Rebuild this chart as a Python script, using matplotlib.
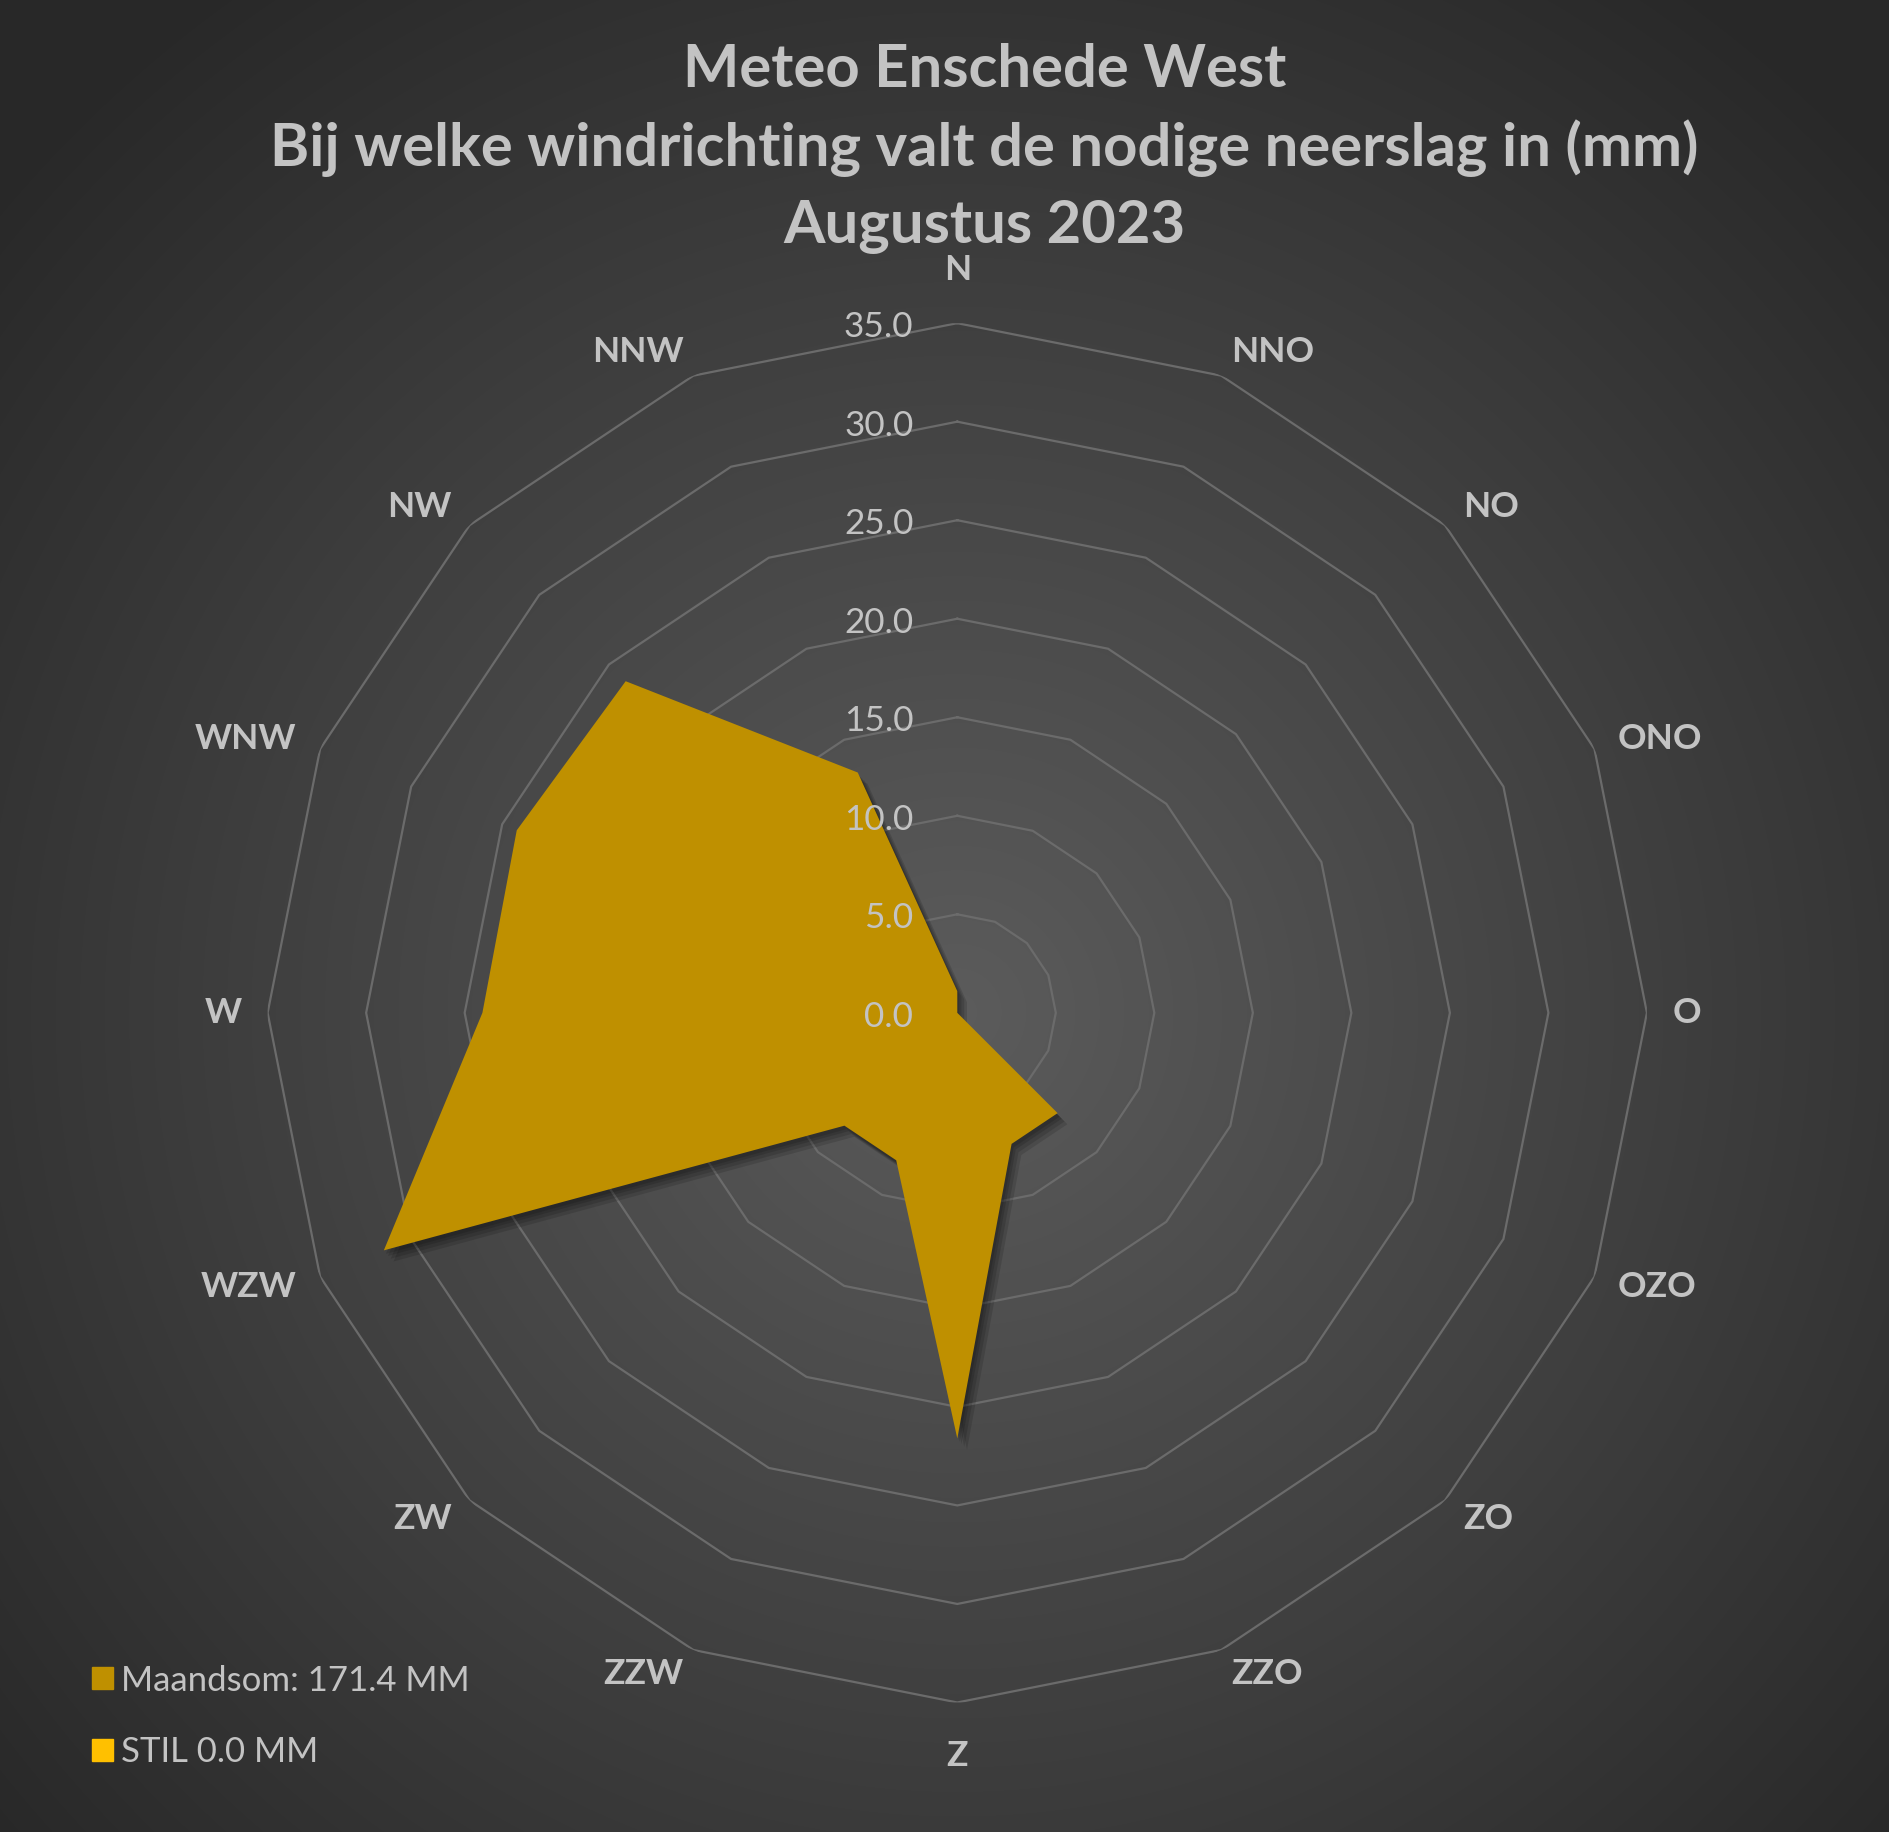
import numpy as np
import matplotlib
matplotlib.use("Agg")
import matplotlib.pyplot as plt
import matplotlib.patches as mpatches
import matplotlib.patheffects as pe
from matplotlib.transforms import offset_copy

plt.rcParams['font.family'] = ['Lato', 'DejaVu Sans']

# data
directions = ['N', 'NNO', 'NO', 'ONO', 'O', 'OZO', 'ZO', 'ZZO',
              'Z', 'ZZW', 'ZW', 'WZW', 'W', 'WNW', 'NW', 'NNW']
rain = [1.1, 0.0, 1.0, 0.0, 0.0, 0.0, 7.2, 7.2,
        21.6, 8.1, 8.1, 31.5, 24.1, 24.2, 23.8, 13.2]
ticks = [0, 5, 10, 15, 20, 25, 30, 35]
title_lines = ['Meteo Enschede West',
               'Bij welke windrichting valt de nodige neerslag in (mm)',
               'Augustus 2023']
legend_labels = ['Maandsom: 171.4 MM', 'STIL 0.0 MM']

text_col = '#c3c3c3'
fill_col = '#bf9000'
stil_col = '#ffc000'
grid_col = '#6b6b6b'

fig = plt.figure(figsize=(18.9, 18.32), dpi=100)

# radial gradient background
bg = fig.add_axes([0, 0, 1, 1])
yy, xx = np.mgrid[0:1832, 0:1890]
d = np.sqrt((xx - 957) ** 2 + (yy - 1012) ** 2) / 1250.0
d = np.clip(d, 0, 1)
shade = 0.36 - (0.36 - 0.16) * d
bg.imshow(np.dstack([shade, shade, shade]), aspect='auto', extent=[0, 1, 0, 1])
bg.axis('off')

# radar axes
ax = fig.add_axes([0.1416, 0.0707, 0.7298, 0.7529], projection='polar')
ax.set_facecolor('none')
ax.set_theta_zero_location('N')
ax.set_theta_direction(-1)
ax.set_ylim(0, 35)
ax.grid(False)
ax.spines['polar'].set_visible(False)
ax.set_xticks([])
ax.set_yticks([])

n = len(directions)
theta = np.linspace(0, 2 * np.pi, n, endpoint=False)
theta_c = np.append(theta, theta[0])

# polygon gridlines
for t in ticks[1:]:
    ax.plot(theta_c, [t] * (n + 1), color=grid_col, lw=1.6, zorder=1)

# rain polygon with soft shadow
vals = np.append(rain, rain[0])
shadows = [pe.SimplePatchShadow(offset=(o, -o - 1), shadow_rgbFace='black', alpha=0.13)
           for o in (7, 5, 3, 1.5)]
ax.fill(theta_c, vals, color=fill_col, lw=0, zorder=3,
        path_effects=shadows + [pe.Normal()])

# value labels along the N axis
tr = offset_copy(ax.transData, fig=fig, x=-44, y=-4, units='dots')
for t in ticks:
    ax.text(0, t, '%.1f' % t, transform=tr, ha='right', va='center',
            fontsize=25.3, color=text_col, zorder=5)

# direction labels, anchored just outside the outer ring
for a, lab in zip(theta, directions):
    s = np.sin(a)
    if abs(s) < 1e-6:
        ha = 'center'
        va = 'bottom' if np.cos(a) > 0 else 'top'
        r = 36.9
    else:
        ha = 'left' if s > 0 else 'right'
        va = 'center'
        r = 36.3
    ax.text(a, r, lab, ha=ha, va=va, fontsize=25.5,
            fontweight='bold', color=text_col, clip_on=False)

# title
for y, line in zip([0.962, 0.919, 0.876], title_lines):
    fig.text(0.521, y, line, ha='center', va='center', fontsize=43,
             fontweight='bold', color=text_col)

# legend
handles = [mpatches.Patch(color=fill_col, label=legend_labels[0]),
           mpatches.Patch(color=stil_col, label=legend_labels[1])]
leg = fig.legend(handles=handles, loc='upper left', bbox_to_anchor=(0.0486, 0.0914),
                 frameon=False, fontsize=25, handlelength=0.6, handleheight=0.6,
                 handletextpad=0.25, labelspacing=1.15, borderpad=0, borderaxespad=0)
for txt in leg.get_texts():
    txt.set_color(text_col)

fig.savefig('out.png', dpi=100)
